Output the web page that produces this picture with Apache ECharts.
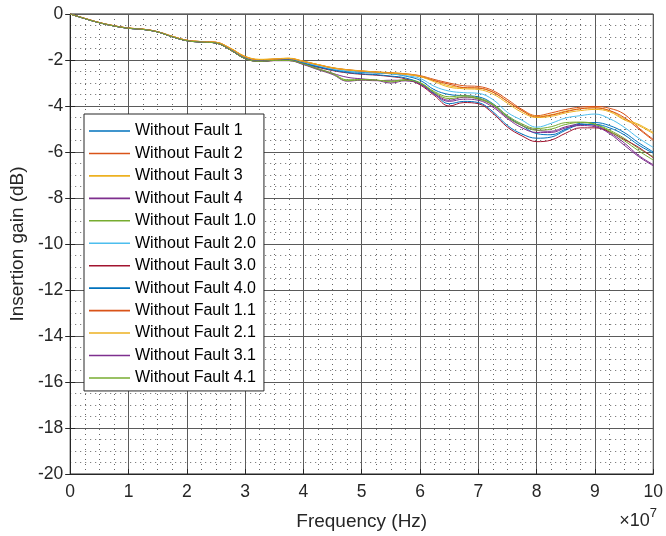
<!DOCTYPE html>
<html>
<head>
<meta charset="utf-8">
<script src="https://cdn.jsdelivr.net/npm/echarts@6/dist/echarts.min.js"></script>
<style>html,body{margin:0;padding:0;background:#fff}#c{width:666px;height:536px}</style>
</head>
<body>
<div id="c"></div>
<script>
// Frequency points (Hz)
const freq = [0,2.5e6,5e6,7.5e6,1e7,1.25e7,1.5e7,1.75e7,2e7,2.25e7,2.5e7,2.75e7,3e7,3.25e7,
  3.5e7,3.75e7,4e7,4.25e7,4.5e7,4.75e7,5e7,5.25e7,5.5e7,5.75e7,6e7,6.25e7,6.5e7,6.75e7,7e7,
  7.25e7,7.5e7,7.75e7,8e7,8.25e7,8.5e7,8.75e7,9e7,9.25e7,9.5e7,9.75e7,1e8];

const seriesNames = ['Without Fault 1','Without Fault 2','Without Fault 3','Without Fault 4',
  'Without Fault 1.0','Without Fault 2.0','Without Fault 3.0','Without Fault 4.0',
  'Without Fault 1.1','Without Fault 2.1','Without Fault 3.1','Without Fault 4.1'];
const colors = ['#0072BD','#D95319','#EDB120','#7E2F8E','#77AC30','#4DBEEE','#A2142F',
  '#0072BD','#D95319','#EDB120','#7E2F8E','#77AC30'];

const wf1   = [0,-0.2,-0.38,-0.52,-0.62,-0.67,-0.78,-0.99,-1.16,-1.22,-1.26,-1.56,-1.93,-2.05,
  -2.01,-1.98,-2.12,-2.28,-2.42,-2.5,-2.54,-2.57,-2.6,-2.7,-2.88,-3.3,-3.5,-3.55,-3.6,-3.9,-4.45,-4.85,-5.2,-5.25,-5.0,-4.75,-4.72,-4.85,-5.15,-5.6,-6.0];
const wf2   = [0,-0.19,-0.37,-0.51,-0.61,-0.66,-0.77,-0.97,-1.14,-1.2,-1.23,-1.5,-1.86,-1.99,
  -1.96,-1.93,-2.06,-2.2,-2.34,-2.42,-2.48,-2.52,-2.56,-2.6,-2.68,-2.85,-3.0,-3.12,-3.15,-3.33,-3.72,-4.15,-4.42,-4.3,-4.15,-4.05,-4.02,-4.1,-4.35,-4.95,-5.45];
const wf3   = [0,-0.19,-0.37,-0.51,-0.61,-0.66,-0.77,-0.97,-1.14,-1.2,-1.23,-1.49,-1.84,-1.97,
  -1.95,-1.92,-2.05,-2.2,-2.33,-2.42,-2.47,-2.52,-2.55,-2.6,-2.7,-2.9,-3.12,-3.2,-3.22,-3.4,-3.8,-4.2,-4.45,-4.38,-4.22,-4.12,-4.08,-4.2,-4.55,-4.8,-5.15];
const wf4   = [0,-0.2,-0.38,-0.52,-0.62,-0.67,-0.78,-0.99,-1.16,-1.22,-1.26,-1.57,-1.94,-2.06,
  -2.03,-2.03,-2.2,-2.42,-2.63,-2.92,-2.88,-2.9,-2.88,-2.9,-3.02,-3.45,-3.75,-3.62,-3.68,-3.98,-4.5,-4.85,-5.05,-5.1,-4.9,-4.8,-4.85,-5.15,-5.6,-6.15,-6.55];
const wf1_0 = [0,-0.2,-0.38,-0.52,-0.62,-0.67,-0.78,-0.99,-1.16,-1.22,-1.26,-1.57,-1.94,-2.06,
  -2.02,-2.02,-2.18,-2.4,-2.6,-2.9,-2.86,-2.88,-2.92,-2.85,-2.98,-3.38,-3.6,-3.55,-3.65,-3.92,-4.42,-4.78,-4.98,-4.9,-4.72,-4.7,-4.78,-5.05,-5.4,-5.85,-6.2];
const wf2_0 = [0,-0.2,-0.38,-0.52,-0.62,-0.67,-0.78,-0.98,-1.15,-1.21,-1.25,-1.54,-1.91,-2.03,
  -2.0,-1.97,-2.1,-2.26,-2.4,-2.48,-2.52,-2.55,-2.6,-2.68,-2.8,-3.15,-3.35,-3.42,-3.45,-3.72,-4.28,-4.62,-4.92,-4.75,-4.52,-4.42,-4.35,-4.55,-4.92,-5.4,-5.8];
const wf3_0 = [0,-0.2,-0.38,-0.52,-0.62,-0.67,-0.78,-0.99,-1.16,-1.22,-1.26,-1.57,-1.93,-2.05,
  -2.02,-2.0,-2.16,-2.32,-2.46,-2.56,-2.62,-2.66,-2.72,-2.82,-3.08,-3.55,-4.0,-3.85,-3.9,-4.32,-4.92,-5.3,-5.55,-5.48,-5.18,-4.95,-4.95,-5.12,-5.45,-5.8,-6.25];
const wf4_0 = [0,-0.2,-0.38,-0.52,-0.62,-0.67,-0.78,-0.99,-1.16,-1.22,-1.26,-1.56,-1.93,-2.05,
  -2.01,-2.0,-2.15,-2.3,-2.44,-2.54,-2.6,-2.64,-2.7,-2.78,-3.02,-3.48,-3.9,-3.8,-3.85,-4.25,-4.85,-5.22,-5.4,-5.35,-5.05,-4.82,-4.8,-4.95,-5.25,-5.7,-6.05];
const wf1_1 = [0,-0.19,-0.37,-0.51,-0.61,-0.66,-0.77,-0.97,-1.14,-1.2,-1.23,-1.5,-1.86,-1.99,
  -1.97,-1.94,-2.07,-2.21,-2.35,-2.43,-2.49,-2.53,-2.57,-2.62,-2.72,-2.9,-3.05,-3.2,-3.22,-3.4,-3.8,-4.2,-4.48,-4.4,-4.25,-4.12,-4.08,-4.2,-4.5,-5.0,-5.5];
const wf2_1 = [0,-0.19,-0.37,-0.51,-0.61,-0.66,-0.77,-0.97,-1.14,-1.2,-1.23,-1.49,-1.85,-1.98,
  -1.96,-1.93,-2.06,-2.2,-2.34,-2.43,-2.48,-2.53,-2.58,-2.62,-2.72,-2.95,-3.18,-3.25,-3.28,-3.48,-3.88,-4.28,-4.5,-4.45,-4.3,-4.2,-4.15,-4.25,-4.6,-4.85,-5.2];
const wf3_1 = [0,-0.2,-0.38,-0.52,-0.62,-0.67,-0.78,-0.99,-1.16,-1.22,-1.26,-1.57,-1.94,-2.06,
  -2.02,-2.02,-2.18,-2.38,-2.58,-2.75,-2.82,-2.88,-3.0,-2.9,-3.05,-3.5,-3.8,-3.7,-3.75,-4.05,-4.55,-4.95,-5.15,-5.15,-4.95,-4.85,-4.9,-5.2,-5.7,-6.2,-6.6];
const wf4_1 = [0,-0.2,-0.38,-0.52,-0.62,-0.67,-0.78,-0.99,-1.16,-1.22,-1.26,-1.57,-1.94,-2.06,
  -2.02,-2.02,-2.17,-2.38,-2.58,-2.86,-2.85,-2.87,-2.95,-2.88,-3.0,-3.42,-3.68,-3.6,-3.7,-3.95,-4.48,-4.85,-5.05,-5.0,-4.8,-4.72,-4.8,-5.1,-5.5,-5.95,-6.35];

const allValues = [wf1,wf2,wf3,wf4,wf1_0,wf2_0,wf3_0,wf4_0,wf1_1,wf2_1,wf3_1,wf4_1];

const xTickLabels = ['0','1','2','3','4','5','6','7','8','9','10'];
const FONT = 'Liberation Sans, Arial, Helvetica, sans-serif';
const TXT = '#262626';
const GRIDC = '#5a5a5a';

const chart = echarts.init(document.getElementById('c'), null, {renderer: 'canvas'});

const series = allValues.map((vals, i) => ({
  name: seriesNames[i],
  type: 'line',
  xAxisIndex: 0, yAxisIndex: 0,
  data: freq.map((f, k) => [f, vals[k]]),
  symbol: 'none',
  smooth: 0.4,
  lineStyle: {width: 1, color: colors[i]},
  itemStyle: {color: colors[i]},
  animation: false,
  z: 3
}));

const minorLine = {show: true, lineStyle: {color: '#666', type: [1, 4], width: 1}};
const hiddenAxisBits = {axisLine: {show: false}, axisTick: {show: false}, axisLabel: {show: false}};

chart.setOption({
  animation: false,
  textStyle: {fontFamily: FONT},
  grid: {left: 69, right: 9, top: 14, bottom: 62, show: true, borderColor: TXT, borderWidth: 1, backgroundColor: '#fff'},
  xAxis: [{
    type: 'value', min: 0, max: 1e8, interval: 1e7,
    axisLine: {show: true, onZero: false, lineStyle: {color: TXT}},
    axisTick: {show: true, inside: true, length: 5, lineStyle: {color: TXT}},
    axisLabel: {color: TXT, fontSize: 17.5, fontFamily: FONT, margin: 9,
      formatter: v => xTickLabels[Math.round(v / 1e7)]},
    splitLine: {show: true, lineStyle: {color: GRIDC, width: 1}},
    name: 'Frequency (Hz)', nameLocation: 'middle', nameGap: 38,
    nameTextStyle: {color: TXT, fontSize: 19, fontFamily: FONT},
    z: 2
  }, {
    type: 'value', min: 0, max: 1e8, interval: 1e7, position: 'top',
    axisLine: {show: true, lineStyle: {color: TXT}},
    axisTick: {show: true, inside: true, length: 5, lineStyle: {color: TXT}},
    axisLabel: {show: false}, splitLine: {show: false}
  }, Object.assign({
    type: 'value', min: 0, max: 1e8, interval: 2.5e6, position: 'bottom',
    splitLine: minorLine, z: 1
  }, hiddenAxisBits)],
  yAxis: [{
    type: 'value', min: -20, max: 0, interval: 2,
    axisLine: {show: true, onZero: false, lineStyle: {color: TXT}},
    axisTick: {show: true, inside: true, length: 5, lineStyle: {color: TXT}},
    axisLabel: {color: TXT, fontSize: 17.5, fontFamily: FONT, margin: 7},
    splitLine: {show: true, lineStyle: {color: GRIDC, width: 1}},
    name: 'Insertion gain (dB)', nameLocation: 'middle', nameGap: 35, nameRotate: 90,
    nameTextStyle: {color: TXT, fontSize: 19, fontFamily: FONT},
    z: 2
  }, {
    type: 'value', min: -20, max: 0, interval: 2, position: 'right',
    axisLine: {show: true, lineStyle: {color: TXT}},
    axisTick: {show: true, inside: true, length: 5, lineStyle: {color: TXT}},
    axisLabel: {show: false}, splitLine: {show: false}
  }, Object.assign({
    type: 'value', min: -20, max: 0, interval: 0.5, position: 'left',
    splitLine: minorLine, z: 1
  }, hiddenAxisBits)],
  legend: {
    orient: 'vertical', left: 84, top: 114,
    data: seriesNames.map(n => ({name: n, icon: 'rect'})),
    itemWidth: 41, itemHeight: 1.6, itemGap: 6.45,
    padding: [9, 8, 5, 5],
    backgroundColor: '#fff', borderColor: TXT, borderWidth: 1, borderRadius: 0,
    textStyle: {color: '#000', fontSize: 16, fontFamily: FONT, lineHeight: 16},
    selectedMode: false
  },
  graphic: [{
    type: 'text', right: 9, top: 507,
    style: {
      text: '{a|×10}{s|7}',
      rich: {
        a: {fontSize: 18, fontFamily: FONT, fill: TXT, verticalAlign: 'bottom'},
        s: {fontSize: 13, fontFamily: FONT, fill: TXT, verticalAlign: 'top', padding: [0, 0, 10, 0]}
      }
    }
  }],
  series: series
});
</script>
</body>
</html>
